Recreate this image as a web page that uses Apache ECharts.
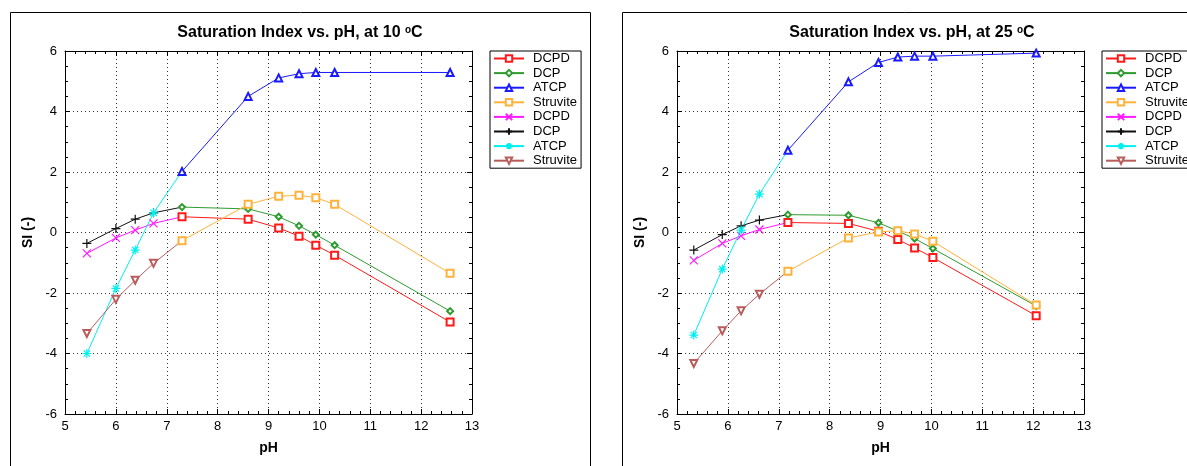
<!DOCTYPE html>
<html>
<head>
<meta charset="utf-8">
<script src="https://cdn.jsdelivr.net/npm/echarts@6/dist/echarts.min.js"></script>
<style>
html,body{margin:0;padding:0;background:#fff;}
#c{width:1187px;height:466px;}
</style>
</head>
<body>
<div id="c"></div>
<script>
// ---------- data ----------
const xTicks = [5, 6, 7, 8, 9, 10, 11, 12, 13];
const yTicks = [-6, -4, -2, 0, 2, 4, 6];
const legendNames = ['DCPD', 'DCP', 'ATCP', 'Struvite'];

// 10 °C
const pH10High = [7.3, 8.6, 9.2, 9.6, 9.93, 10.3, 12.57];
const dcpd10 = [0.52, 0.44, 0.15, -0.12, -0.42, -0.75, -2.96];
const dcp10 = [0.84, 0.78, 0.52, 0.22, -0.07, -0.42, -2.6];
const atcp10 = [2.02, 4.5, 5.11, 5.25, 5.29, 5.29, 5.29];
const struvite10 = [-0.27, 0.93, 1.2, 1.23, 1.15, 0.93, -1.35];
const pH10Low = [5.43, 6.0, 6.38, 6.74];
const dcpd10Low = [-0.69, -0.18, 0.08, 0.30];
const dcp10Low = [-0.36, 0.13, 0.44, 0.65];
const atcp10Low = [-4.0, -1.85, -0.58, 0.65];
const struvite10Low = [-3.34, -2.21, -1.58, -1.02];

// 25 °C
const pH25High = [7.18, 8.37, 8.96, 9.34, 9.67, 10.03, 12.06];
const dcpd25 = [0.33, 0.30, 0.04, -0.23, -0.51, -0.83, -2.75];
const dcp25 = [0.59, 0.57, 0.32, 0.05, -0.2, -0.53, -2.43];
const atcp25 = [2.72, 4.98, 5.62, 5.80, 5.83, 5.83, 5.93];
const struvite25 = [-1.28, -0.18, 0.02, 0.06, -0.05, -0.29, -2.40];
const pH25Low = [5.33, 5.89, 6.26, 6.62];
const dcpd25Low = [-0.92, -0.36, -0.11, 0.10];
const dcp25Low = [-0.58, -0.07, 0.22, 0.41];
const atcp25Low = [-3.39, -1.21, 0.08, 1.27];
const struvite25Low = [-4.33, -3.25, -2.59, -2.04];

// ---------- styling ----------
const FONT = 'Liberation Sans, Arial, sans-serif';
const C = {
  dcpd: '#ff1a1a', dcp: '#2e9b2e', atcp: '#1a1aff', struvite: '#ffb23a',
  dcpdL: '#ff1aff', dcpL: '#111111', atcpL: '#00f0f0', struviteL: '#b85c5c'
};
const SYM_X = 'path://M0,0L10,10M10,0L0,10';
const SYM_PLUS = 'path://M5,0L5,10M0,5L10,5';
const SYM_STAR = 'path://M5,0L5,10M0,5L10,5M1.5,1.5L8.5,8.5M8.5,1.5L1.5,8.5';

function highSeries(name, xs, ys, color, symbol, size, gi, rotate) {
  return {
    type: 'line', name: name, xAxisIndex: gi * 2, yAxisIndex: gi * 2,
    data: xs.map((x, i) => [x, ys[i]]),
    symbol: symbol, symbolSize: size, symbolRotate: rotate || 0,
    lineStyle: { color: color, width: 1 },
    itemStyle: { color: color, borderColor: color, borderWidth: 1 },
    emphasis: { disabled: true }, z: 3
  };
}
function lowSeries(name, xs, ys, joinX, joinY, color, symbol, size, gi, rotate, pathSym) {
  const d = xs.map((x, i) => [x, ys[i]]);
  d.push({ value: [joinX, joinY], symbol: 'none' });
  return {
    type: 'line', name: name, xAxisIndex: gi * 2, yAxisIndex: gi * 2,
    data: d,
    symbol: symbol, symbolSize: size, symbolRotate: rotate || 0,
    lineStyle: { color: color, width: 1 },
    itemStyle: pathSym
      ? { color: 'rgba(0,0,0,0)', borderColor: color, borderWidth: 1.2 }
      : { color: color, borderColor: color, borderWidth: 1 },
    emphasis: { disabled: true }, z: 2
  };
}

function panelSeries(gi, tag, xsH, dcpd, dcp, atcp, stru, xsL, dcpdL, dcpL, atcpL, struL) {
  return [
    highSeries('DCPD|' + tag + '1', xsH, dcpd, C.dcpd, 'emptyRect', 7, gi),
    highSeries('DCP|' + tag + '1', xsH, dcp, C.dcp, 'emptyDiamond', 6, gi),
    highSeries('ATCP|' + tag + '1', xsH, atcp, C.atcp, 'emptyTriangle', 7, gi),
    highSeries('Struvite|' + tag + '1', xsH, stru, C.struvite, 'emptyRect', 7, gi),
    lowSeries('DCPD|' + tag + '2', xsL, dcpdL, xsH[0], dcpd[0], C.dcpdL, SYM_X, 8, gi, 0, true),
    lowSeries('DCP|' + tag + '2', xsL, dcpL, xsH[0], dcp[0], C.dcpL, SYM_PLUS, 9, gi, 0, true),
    lowSeries('ATCP|' + tag + '2', xsL, atcpL, xsH[0], atcp[0], C.atcpL, SYM_STAR, 9, gi, 0, true),
    lowSeries('Struvite|' + tag + '2', xsL, struL, xsH[0], stru[0], C.struviteL, 'emptyTriangle', 7, gi, 180, false)
  ];
}

const gridW = 407, gridH = 363, gridTop = 51;
const grids = [
  { left: 65, top: gridTop, width: gridW, height: gridH },
  { left: 677, top: gridTop, width: gridW, height: gridH }
];

function xAxes(gi) {
  const common = {
    type: 'value', gridIndex: gi, min: xTicks[0], max: xTicks[xTicks.length - 1], interval: 1,
    axisLine: { show: true, onZero: false, lineStyle: { color: '#000', width: 1 } },
    axisTick: { show: true, inside: true, length: 5, lineStyle: { color: '#000' } },
    minorTick: { show: true, splitNumber: 5, length: 3, lineStyle: { color: '#000' } }
  };
  return [
    Object.assign({}, common, {
      position: 'bottom',
      name: 'pH', nameLocation: 'middle', nameGap: 27,
      nameTextStyle: { fontFamily: FONT, fontSize: 14, fontWeight: 'bold', color: '#000' },
      axisLabel: { show: true, margin: 6, fontFamily: FONT, fontSize: 13, color: '#000' },
      splitLine: { show: true, lineStyle: { color: '#333', width: 1, type: [1, 3] } }
    }),
    Object.assign({}, common, {
      position: 'top', axisLabel: { show: false }, splitLine: { show: false }
    })
  ];
}
function yAxes(gi) {
  const common = {
    type: 'value', gridIndex: gi, min: yTicks[0], max: yTicks[yTicks.length - 1], interval: 2,
    axisLine: { show: true, onZero: false, lineStyle: { color: '#000', width: 1 } },
    axisTick: { show: true, inside: true, length: 5, lineStyle: { color: '#000' } },
    minorTick: { show: true, splitNumber: 4, length: 3, lineStyle: { color: '#000' } }
  };
  return [
    Object.assign({}, common, {
      position: 'left',
      name: 'SI (-)', nameLocation: 'middle', nameGap: 30,
      nameTextStyle: { fontFamily: FONT, fontSize: 14, fontWeight: 'bold', color: '#000' },
      axisLabel: { show: true, margin: 8, fontFamily: FONT, fontSize: 13, color: '#000' },
      splitLine: { show: true, lineStyle: { color: '#333', width: 1, type: [1, 3] } }
    }),
    Object.assign({}, common, {
      position: 'right', axisLabel: { show: false }, splitLine: { show: false }
    })
  ];
}

function legend(left, tag) {
  return {
    orient: 'vertical', left: left, top: 51,
    data: legendNames.map(n => n + '|' + tag + '1').concat(legendNames.map(n => n + '|' + tag + '2')),
    formatter: n => n.split('|')[0],
    itemWidth: 30, itemHeight: 8, itemGap: 1.6,
    padding: [1, 4, 1, 3],
    backgroundColor: '#fff', borderColor: '#000', borderWidth: 1, borderRadius: 0,
    textStyle: { fontFamily: FONT, fontSize: 13, color: '#000', padding: [0, 0, 0, 4] },
    selectedMode: false
  };
}

function title(text, cx) {
  return {
    text: '{a|' + text + '}{s|o}{a|C}',
    left: cx, top: 20, textAlign: 'center',
    textStyle: {
      rich: {
        a: { fontFamily: FONT, fontSize: 16, fontWeight: 'bold', color: '#000' },
        s: { fontFamily: FONT, fontSize: 10, fontWeight: 'bold', color: '#000', verticalAlign: 'top' }
      }
    }
  };
}

const chart = echarts.init(document.getElementById('c'), null, { renderer: 'canvas' });
chart.setOption({
  animation: false,
  backgroundColor: '#fff',
  title: [title('Saturation Index vs. pH, at 10 ', 295), title('Saturation Index vs. pH, at 25 ', 907)],
  graphic: [
    { type: 'rect', shape: { x: 10.5, y: 12.5, width: 580, height: 470 }, style: { fill: 'none', stroke: '#000', lineWidth: 1 }, z: -10 },
    { type: 'rect', shape: { x: 622.5, y: 12.5, width: 580, height: 470 }, style: { fill: 'none', stroke: '#000', lineWidth: 1 }, z: -10 }
  ],
  grid: grids,
  xAxis: xAxes(0).concat(xAxes(1)),
  yAxis: yAxes(0).concat(yAxes(1)),
  legend: [legend(490, 'L'), legend(1102, 'R')],
  series: panelSeries(0, 'L', pH10High, dcpd10, dcp10, atcp10, struvite10,
                      pH10Low, dcpd10Low, dcp10Low, atcp10Low, struvite10Low)
    .concat(panelSeries(1, 'R', pH25High, dcpd25, dcp25, atcp25, struvite25,
                        pH25Low, dcpd25Low, dcp25Low, atcp25Low, struvite25Low))
});
</script>
</body>
</html>
